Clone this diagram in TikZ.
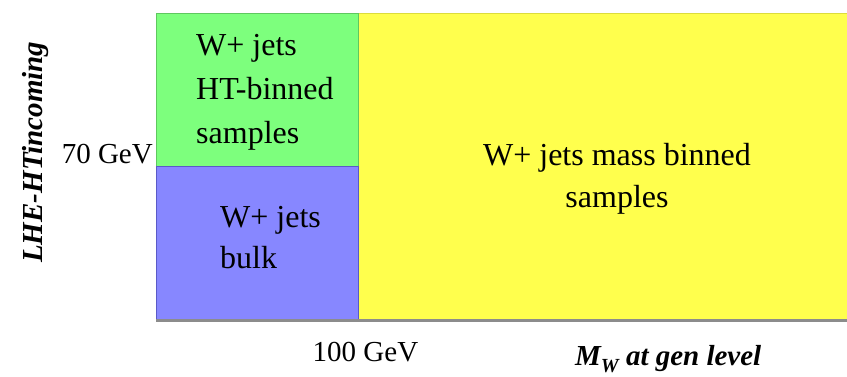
\documentclass[tikz,border=0pt]{standalone}
\usepackage{fontspec}
\setmainfont{Liberation Serif}
\definecolor{greenfill}{RGB}{125,255,125}
\definecolor{greenline}{RGB}{95,200,95}
\definecolor{bluefill}{RGB}{135,135,255}
\definecolor{blueline}{RGB}{90,90,200}
\definecolor{yellowfill}{RGB}{255,255,77}
\definecolor{yellowline}{RGB}{220,220,60}
\definecolor{axisgray}{RGB}{140,140,140}
\tikzset{
  region/.style={anchor=north west, inner sep=0pt, outer sep=0pt, line width=1pt},
  boxtext/.style={inner sep=0pt, font=\fontsize{32}{44}\selectfont},
  ticktext/.style={inner sep=0pt, font=\fontsize{29}{34}\selectfont},
  axistext/.style={inner sep=0pt, font=\fontsize{29}{34}\selectfont\bfseries\itshape},
  axisline/.style={draw=axisgray, line width=2.2pt}
}
\begin{document}
\begin{tikzpicture}[x=1pt,y=-1pt]
\useasboundingbox (0,0) rectangle (847,376);
% regions
\node[region, draw=yellowline, fill=yellowfill, minimum width=489pt, minimum height=307pt] (yellow) at (358,13) {};
\node[region, draw=greenline, fill=greenfill, minimum width=202pt, minimum height=153pt] (green) at (156,13) {};
\node[region, draw=blueline, fill=bluefill, minimum width=202pt, minimum height=154pt] (blue) at (156,166) {};
% axis
\coordinate (origin) at (156,320.5);
\coordinate (xend) at (847,320.5);
\draw[axisline] (origin) -- (xend);
% texts (base anchor = baseline of last line)
\node[boxtext, anchor=base west, align=left] (gtext) at (196,143) {W+ jets\\HT-binned\\samples};
\node[boxtext, anchor=base west, align=left, font=\fontsize{32}{41}\selectfont] (btext) at (220,268) {W+ jets\\bulk};
\node[boxtext, anchor=base, align=center, font=\fontsize{32}{42}\selectfont] (ytext) at (617,207) {W+ jets mass binned\\samples};
\node[ticktext, anchor=base east] (t70) at (153,163) {70 GeV};
\node[ticktext, anchor=base] (t100) at (365.5,361) {100 GeV};
\node[axistext, anchor=base west] (xlabel) at (575,365) {M\raisebox{-7pt}{\fontsize{20}{20}\selectfont W} at gen level};
\node[axistext, anchor=base west, rotate=90] (ylabel) at (42,263) {LHE-HTincoming};
\end{tikzpicture}
\end{document}
